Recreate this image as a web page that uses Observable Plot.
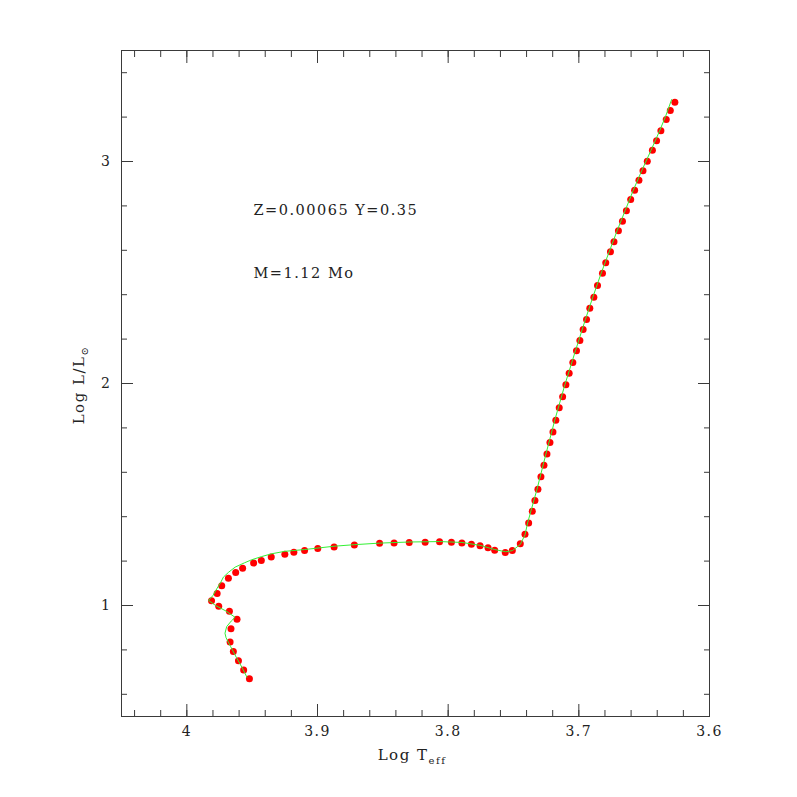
<!DOCTYPE html>
<html><head><meta charset="utf-8">
<script src="https://cdn.jsdelivr.net/npm/d3@7"></script>
<script src="https://cdn.jsdelivr.net/npm/@observablehq/plot@0.6"></script>
<style>
body{margin:0;background:#fff}
#chart svg text{letter-spacing:1.5px}
</style>
</head><body><div id="chart"></div>
<script>
// Model points (red dots)
const teffPts = [
3.9521, 3.9565, 3.9605, 3.9644, 3.9669, 3.9662, 3.9616, 3.9674, 3.9756, 3.9811,
3.9768, 3.9733, 3.9682, 3.9626, 3.9573, 3.9489, 3.9430, 3.9354, 3.9250, 3.9181,
3.9099, 3.8998, 3.8873, 3.8718, 3.8525, 3.8414, 3.8298, 3.8176, 3.8066, 3.7975,
3.7895, 3.7822, 3.7756, 3.7695, 3.7644, 3.7563, 3.7509, 3.7448, 3.7412, 3.7384,
3.7356, 3.7336, 3.7313, 3.7290, 3.7267, 3.7244, 3.7221, 3.7198, 3.7176, 3.7150,
3.7124, 3.7099, 3.7074, 3.7046, 3.7018, 3.6992, 3.6967, 3.6941, 3.6916, 3.6885,
3.6857, 3.6819, 3.6794, 3.6758, 3.6731, 3.6697, 3.6666, 3.6636, 3.6603, 3.6573,
3.6540, 3.6509, 3.6476, 3.6437, 3.6405, 3.6372, 3.6331, 3.6300, 3.6265
];
const lumPts = [
0.670, 0.709, 0.751, 0.793, 0.836, 0.895, 0.938, 0.974, 0.997, 1.021,
1.054, 1.089, 1.123, 1.149, 1.168, 1.191, 1.203, 1.218, 1.231, 1.240,
1.248, 1.257, 1.264, 1.272, 1.280, 1.282, 1.284, 1.285, 1.287, 1.285,
1.282, 1.276, 1.269, 1.260, 1.249, 1.239, 1.248, 1.278, 1.321, 1.372,
1.425, 1.473, 1.524, 1.580, 1.632, 1.682, 1.734, 1.782, 1.835, 1.891,
1.940, 1.994, 2.046, 2.095, 2.147, 2.194, 2.243, 2.288, 2.339, 2.389,
2.441, 2.497, 2.544, 2.593, 2.638, 2.688, 2.731, 2.778, 2.829, 2.871,
2.916, 2.958, 3.001, 3.051, 3.093, 3.138, 3.189, 3.230, 3.267
];
// Track (green line)
const teffLine = [
3.9540, 3.9575, 3.9620, 3.9665, 3.9700, 3.9708, 3.9695, 3.9660, 3.9631, 3.9700,
3.9780, 3.9834, 3.9800, 3.9771, 3.9740, 3.9720, 3.9680, 3.9630, 3.9560, 3.9504,
3.9430, 3.9351, 3.9250, 3.9099, 3.8873, 3.8718, 3.8525, 3.8298, 3.8066, 3.7895,
3.7756, 3.7644, 3.7560, 3.7509, 3.7448, 3.7412, 3.7392, 3.7320, 3.7252, 3.7184,
3.7107, 3.7026, 3.6950, 3.6893, 3.6829, 3.6768, 3.6707, 3.6646, 3.6583, 3.6519,
3.6447, 3.6382, 3.6335, 3.6290
];
const lumLine = [
0.677, 0.718, 0.765, 0.815, 0.855, 0.875, 0.905, 0.930, 0.947, 0.975,
1.000, 1.023, 1.045, 1.075, 1.105, 1.128, 1.150, 1.173, 1.192, 1.206,
1.220, 1.233, 1.244, 1.252, 1.267, 1.274, 1.281, 1.286, 1.288, 1.284,
1.271, 1.252, 1.242, 1.247, 1.275, 1.318, 1.372, 1.524, 1.682, 1.835,
1.994, 2.147, 2.288, 2.389, 2.497, 2.593, 2.688, 2.778, 2.871, 2.958,
3.051, 3.138, 3.205, 3.279
];
const xMajorTicks = [4, 3.9, 3.8, 3.7, 3.6];
const xMinorTicks = d3.range(0, 23).map(i => +(3.6 + i * 0.02).toFixed(2));
const yMajorTicks = [1, 2, 3];
const yMinorTicks = d3.range(0, 15).map(i => +(0.6 + i * 0.2).toFixed(1));
const annotations = ["Z=0.00065 Y=0.35", "M=1.12 Mo"];
const xLabelMain = "Log T", xLabelSub = "eff";
const yLabelMain = "Log L/L", yLabelSub = "\u2299";

const pts = teffPts.map((t, i) => ({teff: t, lum: lumPts[i]}));
const track = teffLine.map((t, i) => ({teff: t, lum: lumLine[i]}));

const W = 797, H = 797, mL = 121, mR = 88, mT = 50, mB = 81;
const font = "DejaVu Serif";
const ink = "#3a3a3a";

function tickAxes(ticks, size, isX) {
  const none = () => "";
  if (isX) return [
    Plot.axisX(ticks, {anchor: "bottom", tickSize: size, dy: -size, tickFormat: none, label: null, stroke: ink}),
    Plot.axisX(ticks, {anchor: "top", tickSize: size, dy: size, tickFormat: none, label: null, stroke: ink})
  ];
  return [
    Plot.axisY(ticks, {anchor: "left", tickSize: size, dx: size, tickFormat: none, label: null, stroke: ink}),
    Plot.axisY(ticks, {anchor: "right", tickSize: size, dx: -size, tickFormat: none, label: null, stroke: ink})
  ];
}

const plot = Plot.plot({
  width: W, height: H,
  marginLeft: mL, marginRight: mR, marginTop: mT, marginBottom: mB,
  style: {fontFamily: font, fontSize: "14px", background: "#fff", color: ink},
  x: {domain: [4.05, 3.6]},
  y: {domain: [0.5, 3.5]},
  marks: [
    ...tickAxes(xMinorTicks, 6, true),
    ...tickAxes(xMajorTicks, 12, true),
    ...tickAxes(yMinorTicks, 6, false),
    ...tickAxes(yMajorTicks, 12, false),
    Plot.axisX(xMajorTicks, {anchor: "bottom", tickSize: 0, tickPadding: 10, tickFormat: d => String(d), label: null, fill: "#222", fontSize: 14}),
    Plot.axisY(yMajorTicks, {anchor: "left", tickSize: 0, tickPadding: 10, tickFormat: d => String(d), label: null, fill: "#222", fontSize: 14}),
    Plot.frame({stroke: ink}),
    Plot.dot(pts, {x: "teff", y: "lum", r: 3.5, fill: "#ff0000", stroke: "none"}),
    Plot.line(track, {x: "teff", y: "lum", stroke: "#33f033", strokeWidth: 1}),
    Plot.text([annotations[0]], {text: d => d, frameAnchor: "top-left", textAnchor: "start", dx: 132, dy: 154, fontSize: 14.5, fill: "#222"}),
    Plot.text([annotations[1]], {text: d => d, frameAnchor: "top-left", textAnchor: "start", dx: 132, dy: 217, fontSize: 14.5, fill: "#222"})
  ]
});
document.getElementById("chart").appendChild(plot);

const svg = d3.select(plot);
const cx = mL + (W - mL - mR) / 2;
const xl = svg.append("text")
  .attr("x", cx - 3).attr("y", H - mB + 44)
  .attr("text-anchor", "middle")
  .attr("font-family", font).attr("font-size", 15).attr("fill", "#222");
xl.append("tspan").text(xLabelMain);
xl.append("tspan").attr("dy", 4).attr("font-size", 10).text(xLabelSub);

const cy = mT + (H - mT - mB) / 2;
const yl = svg.append("text")
  .attr("transform", `translate(${mL - 37},${cy + 2}) rotate(-90)`)
  .attr("text-anchor", "middle")
  .attr("font-family", font).attr("font-size", 15).attr("fill", "#222");
yl.append("tspan").text(yLabelMain);
yl.append("tspan").attr("dy", 4).attr("font-size", 10).text(yLabelSub);
</script>
</body></html>
